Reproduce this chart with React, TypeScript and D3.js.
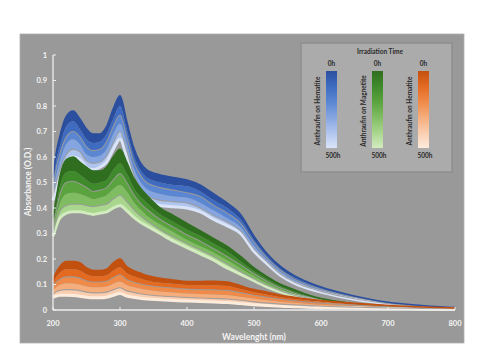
import React from 'react';
import * as d3 from 'd3';

// wavelengths (nm) at which values were read
const wavelengths = [200, 205, 210, 220, 230, 240, 250, 260, 270, 280, 290, 300, 310, 320, 330, 340, 360, 380, 400, 420, 440, 460, 480, 500, 520, 540, 560, 580, 600, 650, 700, 750, 800];

// Anthraufin on Hematite (blue), 0h -> 500h
const blue0h = [0.52, 0.62, 0.68, 0.76, 0.78, 0.75, 0.71, 0.69, 0.69, 0.72, 0.79, 0.84, 0.74, 0.64, 0.58, 0.55, 0.53, 0.52, 0.51, 0.49, 0.455, 0.42, 0.375, 0.29, 0.22, 0.17, 0.135, 0.11, 0.09, 0.055, 0.03, 0.018, 0.01];
const blue100h = [0.5, 0.59, 0.64, 0.72, 0.74, 0.71, 0.67, 0.655, 0.66, 0.69, 0.75, 0.8, 0.71, 0.61, 0.55, 0.52, 0.5, 0.49, 0.485, 0.465, 0.43, 0.4, 0.355, 0.275, 0.21, 0.16, 0.128, 0.104, 0.085, 0.052, 0.029, 0.017, 0.009];
const blue200h = [0.48, 0.56, 0.61, 0.68, 0.7, 0.68, 0.64, 0.625, 0.63, 0.66, 0.72, 0.765, 0.68, 0.585, 0.53, 0.5, 0.48, 0.47, 0.46, 0.445, 0.41, 0.38, 0.34, 0.265, 0.202, 0.155, 0.122, 0.099, 0.081, 0.05, 0.028, 0.016, 0.008];
const blue300h = [0.46, 0.53, 0.58, 0.65, 0.67, 0.65, 0.61, 0.6, 0.605, 0.63, 0.69, 0.73, 0.655, 0.56, 0.505, 0.475, 0.455, 0.445, 0.44, 0.42, 0.39, 0.36, 0.325, 0.252, 0.195, 0.148, 0.116, 0.094, 0.077, 0.047, 0.026, 0.015, 0.007];
const blue400h = [0.445, 0.5, 0.55, 0.61, 0.63, 0.62, 0.585, 0.575, 0.58, 0.605, 0.655, 0.7, 0.625, 0.535, 0.48, 0.45, 0.43, 0.425, 0.42, 0.4, 0.37, 0.345, 0.31, 0.24, 0.187, 0.14, 0.11, 0.089, 0.073, 0.044, 0.025, 0.014, 0.0065];
const blue500h = [0.43, 0.48, 0.52, 0.58, 0.6, 0.59, 0.56, 0.55, 0.56, 0.58, 0.63, 0.67, 0.6, 0.51, 0.46, 0.43, 0.41, 0.405, 0.4, 0.385, 0.355, 0.33, 0.3, 0.23, 0.18, 0.135, 0.105, 0.085, 0.07, 0.042, 0.024, 0.013, 0.006];

// Anthraufin on Magnetite (green)
const green0h = [0.36, 0.44, 0.52, 0.59, 0.6, 0.58, 0.56, 0.545, 0.545, 0.56, 0.6, 0.63, 0.58, 0.52, 0.48, 0.45, 0.4, 0.37, 0.34, 0.31, 0.28, 0.25, 0.21, 0.165, 0.13, 0.1, 0.08, 0.06, 0.045, 0.025, 0.013, 0.007, 0.004];
const green100h = [0.345, 0.41, 0.48, 0.54, 0.545, 0.53, 0.51, 0.495, 0.5, 0.51, 0.55, 0.575, 0.535, 0.48, 0.445, 0.42, 0.375, 0.345, 0.315, 0.29, 0.26, 0.23, 0.19, 0.152, 0.12, 0.092, 0.072, 0.055, 0.042, 0.024, 0.012, 0.0065, 0.0038];
const green200h = [0.33, 0.39, 0.45, 0.5, 0.505, 0.495, 0.48, 0.465, 0.47, 0.48, 0.51, 0.535, 0.5, 0.455, 0.42, 0.395, 0.355, 0.325, 0.295, 0.27, 0.24, 0.21, 0.177, 0.142, 0.112, 0.086, 0.067, 0.052, 0.04, 0.023, 0.0115, 0.006, 0.0035];
const green300h = [0.315, 0.37, 0.415, 0.455, 0.46, 0.455, 0.445, 0.435, 0.44, 0.45, 0.475, 0.49, 0.465, 0.425, 0.395, 0.37, 0.335, 0.305, 0.275, 0.25, 0.225, 0.195, 0.163, 0.132, 0.104, 0.08, 0.062, 0.05, 0.038, 0.022, 0.011, 0.0055, 0.0033];
const green400h = [0.3, 0.35, 0.385, 0.41, 0.415, 0.415, 0.41, 0.405, 0.41, 0.415, 0.435, 0.45, 0.425, 0.395, 0.37, 0.35, 0.315, 0.285, 0.26, 0.235, 0.21, 0.18, 0.15, 0.122, 0.096, 0.075, 0.058, 0.047, 0.036, 0.021, 0.0105, 0.005, 0.003];
const green500h = [0.29, 0.33, 0.36, 0.38, 0.385, 0.385, 0.38, 0.375, 0.38, 0.385, 0.4, 0.41, 0.39, 0.365, 0.345, 0.33, 0.3, 0.27, 0.245, 0.22, 0.195, 0.165, 0.14, 0.115, 0.09, 0.07, 0.055, 0.045, 0.035, 0.02, 0.01, 0.005, 0.003];

// Anthraufin on Hematite (orange)
const orange0h = [0.12, 0.15, 0.17, 0.19, 0.19, 0.185, 0.165, 0.155, 0.155, 0.16, 0.185, 0.2, 0.17, 0.155, 0.145, 0.135, 0.125, 0.118, 0.112, 0.112, 0.113, 0.11, 0.095, 0.08, 0.07, 0.058, 0.05, 0.043, 0.037, 0.026, 0.018, 0.012, 0.008];
const orange100h = [0.105, 0.13, 0.145, 0.16, 0.16, 0.155, 0.14, 0.132, 0.132, 0.136, 0.155, 0.168, 0.145, 0.132, 0.124, 0.116, 0.107, 0.103, 0.098, 0.097, 0.097, 0.094, 0.082, 0.07, 0.06, 0.05, 0.043, 0.037, 0.032, 0.022, 0.015, 0.01, 0.007];
const orange200h = [0.09, 0.11, 0.12, 0.13, 0.13, 0.125, 0.115, 0.11, 0.11, 0.113, 0.127, 0.138, 0.12, 0.11, 0.103, 0.097, 0.09, 0.086, 0.082, 0.08, 0.079, 0.077, 0.068, 0.058, 0.05, 0.042, 0.036, 0.031, 0.027, 0.019, 0.013, 0.009, 0.006];
const orange300h = [0.075, 0.09, 0.098, 0.105, 0.104, 0.1, 0.093, 0.089, 0.089, 0.092, 0.103, 0.112, 0.098, 0.09, 0.084, 0.079, 0.073, 0.069, 0.065, 0.063, 0.061, 0.059, 0.052, 0.045, 0.038, 0.032, 0.028, 0.024, 0.021, 0.015, 0.01, 0.007, 0.005];
const orange400h = [0.062, 0.072, 0.077, 0.08, 0.079, 0.076, 0.07, 0.067, 0.067, 0.07, 0.079, 0.087, 0.075, 0.069, 0.064, 0.06, 0.055, 0.052, 0.049, 0.047, 0.045, 0.043, 0.038, 0.032, 0.027, 0.023, 0.02, 0.017, 0.015, 0.011, 0.008, 0.006, 0.0045];
const orange500h = [0.05, 0.055, 0.058, 0.058, 0.057, 0.054, 0.05, 0.048, 0.048, 0.05, 0.058, 0.065, 0.055, 0.05, 0.046, 0.043, 0.04, 0.037, 0.035, 0.033, 0.031, 0.029, 0.025, 0.021, 0.018, 0.015, 0.013, 0.011, 0.01, 0.008, 0.006, 0.005, 0.004];

const blueColors = ['#2b4f9e', '#3f6cc0', '#5a86d2', '#85a5e0', '#b0c5ee', '#dae4f8'];
const greenColors = ['#2f6e1f', '#3f8a2b', '#5ba33e', '#80bd62', '#a9d68d', '#d2ebbf'];
const orangeColors = ['#c2500f', '#e46a22', '#ef8a48', '#f5ad7c', '#f9cdaf', '#fdebdc'];

const xTicks = [200, 300, 400, 500, 600, 700, 800];
const yTicks = [0, 0.1, 0.2, 0.3, 0.4, 0.5, 0.6, 0.7, 0.8, 0.9, 1];

const legendItems = [
  { label: 'Anthraufin on Hematite', colors: blueColors },
  { label: 'Anthraufin on Magnetite', colors: greenColors },
  { label: 'Anthraufin on Hematite', colors: orangeColors },
];

const groups = [
  { curves: [blue0h, blue100h, blue200h, blue300h, blue400h, blue500h], colors: blueColors },
  { curves: [green0h, green100h, green200h, green300h, green400h, green500h], colors: greenColors },
  { curves: [orange0h, orange100h, orange200h, orange300h, orange400h, orange500h], colors: orangeColors },
];

const W = 484;
const H = 363;
const font = 'Lato, "Open Sans", sans-serif';
const textColor = '#f4f4f4';

export default function App() {
  const x = d3.scaleLinear().domain([200, 800]).range([53, 455]);
  const y = d3.scaleLinear().domain([0, 1]).range([310, 55]);

  const band = (upper: number[], lower: number[]) =>
    d3.area<number>()
      .x((_, j) => x(wavelengths[j]))
      .y0((_, j) => y(lower[j]))
      .y1(d => y(d))
      .curve(d3.curveMonotoneX)(upper) || '';

  const line = d3.line<number>()
    .x((_, j) => x(wavelengths[j]))
    .y(d => y(d))
    .curve(d3.curveMonotoneX);

  const legendX = 301;
  const legendY = 43;
  const barXs = [326, 372, 418];

  return (
    <div style={{ position: 'absolute', left: 0, top: 0 }}>
      <svg width={W} height={H} style={{ display: 'block', background: '#fff' }}>
        <defs>
          {legendItems.map((it, i) => (
            <linearGradient key={i} id={`lg${i}`} x1="0" x2="0" y1="0" y2="1">
              {it.colors.map((c, k) => (
                <stop key={k} offset={`${(k / (it.colors.length - 1)) * 100}%`} stopColor={c} />
              ))}
            </linearGradient>
          ))}
        </defs>

        <rect x={20} y={34} width={444} height={309} fill="#999999" stroke="#b0b0b0" strokeWidth={0.8} />

        {/* bands */}
        {groups.map((g, gi) => (
          <g key={gi}>
            {g.curves.slice(0, -1).map((c, i) => (
              <path key={i} d={band(c, g.curves[i + 1])} fill={g.colors[i]} />
            ))}
            <path d={line(g.curves[g.curves.length - 1]) || ''} fill="none"
              stroke={g.colors[g.colors.length - 1]} strokeWidth={3} />
            {[2, 4].map(k => (
              <path key={k} d={line(g.curves[k]) || ''} fill="none" stroke="#9a9a9a" strokeWidth={1.1} opacity={0.85} />
            ))}
            <path d={line(g.curves[0]) || ''} fill="none" stroke={g.colors[0]} strokeWidth={1.5} />
          </g>
        ))}

        {/* axes */}
        <line x1={53} x2={53} y1={55} y2={310} stroke="#eeeeee" strokeWidth={1.3} />
        <line x1={53} x2={455} y1={310} y2={310} stroke="#eeeeee" strokeWidth={1.3} />
        {yTicks.map(t => (
          <g key={t}>
            <line x1={53} x2={56} y1={y(t)} y2={y(t)} stroke="#eeeeee" strokeWidth={1} />
            <text x={47} y={y(t) + 2.6} textAnchor="end" fontSize={7.5} fontWeight={700}
              fontFamily={font} fill={textColor}>{t}</text>
          </g>
        ))}
        {xTicks.map(t => (
          <g key={t}>
            <line x1={x(t)} x2={x(t)} y1={310} y2={307} stroke="#eeeeee" strokeWidth={1} />
            <text x={x(t)} y={326} textAnchor="middle" fontSize={7.5} fontWeight={700}
              fontFamily={font} fill={textColor}>{t}</text>
          </g>
        ))}
        <text x={254} y={340} textAnchor="middle" fontSize={8.5} fontWeight={700}
          fontFamily={font} fill={textColor}>Wavelenght (nm)</text>
        <text transform="translate(31,182) rotate(-90)" textAnchor="middle" fontSize={8.5}
          fontWeight={700} fontFamily={font} fill={textColor}>Absorbance  (O.D.)</text>

        {/* legend */}
        <rect x={legendX} y={legendY} width={151} height={129} fill="#ababab" stroke="#8e8e8e" strokeWidth={1.5} />
        <text x={380} y={54} textAnchor="middle" fontSize={6.5} fontWeight={700}
          fontFamily={font} fill="#2a2a2a">Irradiation Time</text>
        {legendItems.map((it, i) => (
          <g key={i}>
            <rect x={barXs[i]} y={71} width={11} height={77} fill={`url(#lg${i})`} />
            <text x={barXs[i] + 5.5} y={66} textAnchor="middle" fontSize={6.5} fontWeight={700}
              fontFamily={font} fill="#2a2a2a">0h</text>
            <text x={barXs[i] + 7} y={158} textAnchor="middle" fontSize={6.5} fontWeight={700}
              fontFamily={font} fill="#2a2a2a">500h</text>
            <text transform={`translate(${barXs[i] - 6},111) rotate(-90)`} textAnchor="middle"
              fontSize={6.5} fontWeight={700} fontFamily={font} fill="#2a2a2a">{it.label}</text>
          </g>
        ))}
      </svg>
    </div>
  );
}
